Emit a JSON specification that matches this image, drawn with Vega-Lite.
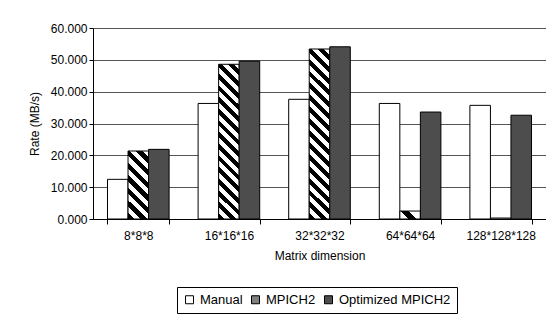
{
  "$schema": "https://vega.github.io/schema/vega-lite/v6.json",
  "width": 453,
  "height": 191,
  "autosize": {"type": "none"},
  "padding": {"left": 93, "top": 28, "right": 0, "bottom": 96},
  "background": "white",
  "data": {
    "values": [
      {"dim": "8*8*8", "series": "Manual", "rate": 12.46},
      {"dim": "8*8*8", "series": "MPICH2", "rate": 21.36},
      {"dim": "8*8*8", "series": "Optimized MPICH2", "rate": 21.88},
      {"dim": "16*16*16", "series": "Manual", "rate": 36.3},
      {"dim": "16*16*16", "series": "MPICH2", "rate": 48.6},
      {"dim": "16*16*16", "series": "Optimized MPICH2", "rate": 49.6},
      {"dim": "32*32*32", "series": "Manual", "rate": 37.6},
      {"dim": "32*32*32", "series": "MPICH2", "rate": 53.4},
      {"dim": "32*32*32", "series": "Optimized MPICH2", "rate": 54.1},
      {"dim": "64*64*64", "series": "Manual", "rate": 36.3},
      {"dim": "64*64*64", "series": "MPICH2", "rate": 2.5},
      {"dim": "64*64*64", "series": "Optimized MPICH2", "rate": 33.6},
      {"dim": "128*128*128", "series": "Manual", "rate": 35.7},
      {"dim": "128*128*128", "series": "MPICH2", "rate": 0.3},
      {"dim": "128*128*128", "series": "Optimized MPICH2", "rate": 32.6}
    ]
  },
  "mark": {"type": "bar", "stroke": "black", "strokeWidth": 1},
  "encoding": {
    "x": {
      "field": "dim", "type": "nominal", "sort": null,
      "scale": {"paddingInner": 0.32, "paddingOuter": 0.16},
      "axis": {
        "title": "Matrix dimension", "labelAngle": 0, "tickBand": "extent",
        "domainColor": "black", "tickColor": "black", "tickSize": 5,
        "labelPadding": 6, "titlePadding": 9, "grid": false
      }
    },
    "xOffset": {"field": "series", "type": "nominal", "sort": ["Manual", "MPICH2", "Optimized MPICH2"], "scale": {"paddingInner": 0, "paddingOuter": 0}},
    "y": {
      "field": "rate", "type": "quantitative",
      "scale": {"domain": [0, 60], "nice": false},
      "axis": {
        "title": "Rate (MB/s)", "format": ".3f", "values": [0, 10, 20, 30, 40, 50, 60], "labelOverlap": false,
        "domainColor": "black", "tickColor": "black", "tickSize": 4, "labelPadding": 2,
        "grid": true, "gridColor": "#555555", "gridOpacity": 1, "titlePadding": 9
      }
    },
    "fill": {
      "condition": [
        {"test": "datum.series === 'MPICH2' && datum.dim === '8*8*8'", "value": {"gradient": "linear", "x1": 0, "y1": 1, "x2": 0.3597, "y2": -0.193, "stops": [
          {"offset": 0, "color": "#000000"},
          {"offset": 0.0714, "color": "#000000"}, {"offset": 0.0714, "color": "#ffffff"},
          {"offset": 0.1429, "color": "#ffffff"}, {"offset": 0.1429, "color": "#000000"},
          {"offset": 0.2143, "color": "#000000"}, {"offset": 0.2143, "color": "#ffffff"},
          {"offset": 0.2857, "color": "#ffffff"}, {"offset": 0.2857, "color": "#000000"},
          {"offset": 0.3571, "color": "#000000"}, {"offset": 0.3571, "color": "#ffffff"},
          {"offset": 0.4286, "color": "#ffffff"}, {"offset": 0.4286, "color": "#000000"},
          {"offset": 0.5, "color": "#000000"}, {"offset": 0.5, "color": "#ffffff"},
          {"offset": 0.5714, "color": "#ffffff"}, {"offset": 0.5714, "color": "#000000"},
          {"offset": 0.6429, "color": "#000000"}, {"offset": 0.6429, "color": "#ffffff"},
          {"offset": 0.7143, "color": "#ffffff"}, {"offset": 0.7143, "color": "#000000"},
          {"offset": 0.7857, "color": "#000000"}, {"offset": 0.7857, "color": "#ffffff"},
          {"offset": 0.8571, "color": "#ffffff"}, {"offset": 0.8571, "color": "#000000"},
          {"offset": 0.9286, "color": "#000000"}, {"offset": 0.9286, "color": "#ffffff"},
          {"offset": 1, "color": "#ffffff"}
        ]}},
        {"test": "datum.series === 'MPICH2' && datum.dim === '16*16*16'", "value": {"gradient": "linear", "x1": 0, "y1": 1, "x2": 0.1475, "y2": -0.113, "stops": [
          {"offset": 0, "color": "#000000"},
          {"offset": 0.0333, "color": "#000000"}, {"offset": 0.0333, "color": "#ffffff"},
          {"offset": 0.0667, "color": "#ffffff"}, {"offset": 0.0667, "color": "#000000"},
          {"offset": 0.1, "color": "#000000"}, {"offset": 0.1, "color": "#ffffff"},
          {"offset": 0.1333, "color": "#ffffff"}, {"offset": 0.1333, "color": "#000000"},
          {"offset": 0.1667, "color": "#000000"}, {"offset": 0.1667, "color": "#ffffff"},
          {"offset": 0.2, "color": "#ffffff"}, {"offset": 0.2, "color": "#000000"},
          {"offset": 0.2333, "color": "#000000"}, {"offset": 0.2333, "color": "#ffffff"},
          {"offset": 0.2667, "color": "#ffffff"}, {"offset": 0.2667, "color": "#000000"},
          {"offset": 0.3, "color": "#000000"}, {"offset": 0.3, "color": "#ffffff"},
          {"offset": 0.3333, "color": "#ffffff"}, {"offset": 0.3333, "color": "#000000"},
          {"offset": 0.3667, "color": "#000000"}, {"offset": 0.3667, "color": "#ffffff"},
          {"offset": 0.4, "color": "#ffffff"}, {"offset": 0.4, "color": "#000000"},
          {"offset": 0.4333, "color": "#000000"}, {"offset": 0.4333, "color": "#ffffff"},
          {"offset": 0.4667, "color": "#ffffff"}, {"offset": 0.4667, "color": "#000000"},
          {"offset": 0.5, "color": "#000000"}, {"offset": 0.5, "color": "#ffffff"},
          {"offset": 0.5333, "color": "#ffffff"}, {"offset": 0.5333, "color": "#000000"},
          {"offset": 0.5667, "color": "#000000"}, {"offset": 0.5667, "color": "#ffffff"},
          {"offset": 0.6, "color": "#ffffff"}, {"offset": 0.6, "color": "#000000"},
          {"offset": 0.6333, "color": "#000000"}, {"offset": 0.6333, "color": "#ffffff"},
          {"offset": 0.6667, "color": "#ffffff"}, {"offset": 0.6667, "color": "#000000"},
          {"offset": 0.7, "color": "#000000"}, {"offset": 0.7, "color": "#ffffff"},
          {"offset": 0.7333, "color": "#ffffff"}, {"offset": 0.7333, "color": "#000000"},
          {"offset": 0.7667, "color": "#000000"}, {"offset": 0.7667, "color": "#ffffff"},
          {"offset": 0.8, "color": "#ffffff"}, {"offset": 0.8, "color": "#000000"},
          {"offset": 0.8333, "color": "#000000"}, {"offset": 0.8333, "color": "#ffffff"},
          {"offset": 0.8667, "color": "#ffffff"}, {"offset": 0.8667, "color": "#000000"},
          {"offset": 0.9, "color": "#000000"}, {"offset": 0.9, "color": "#ffffff"},
          {"offset": 0.9333, "color": "#ffffff"}, {"offset": 0.9333, "color": "#000000"},
          {"offset": 0.9667, "color": "#000000"}, {"offset": 0.9667, "color": "#ffffff"},
          {"offset": 1, "color": "#ffffff"}
        ]}},
        {"test": "datum.series === 'MPICH2' && datum.dim === '32*32*32'", "value": {"gradient": "linear", "x1": 0, "y1": 1, "x2": 0.1331, "y2": -0.104, "stops": [
          {"offset": 0, "color": "#000000"},
          {"offset": 0.03125, "color": "#000000"}, {"offset": 0.03125, "color": "#ffffff"},
          {"offset": 0.0625, "color": "#ffffff"}, {"offset": 0.0625, "color": "#000000"},
          {"offset": 0.09375, "color": "#000000"}, {"offset": 0.09375, "color": "#ffffff"},
          {"offset": 0.125, "color": "#ffffff"}, {"offset": 0.125, "color": "#000000"},
          {"offset": 0.15625, "color": "#000000"}, {"offset": 0.15625, "color": "#ffffff"},
          {"offset": 0.1875, "color": "#ffffff"}, {"offset": 0.1875, "color": "#000000"},
          {"offset": 0.21875, "color": "#000000"}, {"offset": 0.21875, "color": "#ffffff"},
          {"offset": 0.25, "color": "#ffffff"}, {"offset": 0.25, "color": "#000000"},
          {"offset": 0.28125, "color": "#000000"}, {"offset": 0.28125, "color": "#ffffff"},
          {"offset": 0.3125, "color": "#ffffff"}, {"offset": 0.3125, "color": "#000000"},
          {"offset": 0.34375, "color": "#000000"}, {"offset": 0.34375, "color": "#ffffff"},
          {"offset": 0.375, "color": "#ffffff"}, {"offset": 0.375, "color": "#000000"},
          {"offset": 0.40625, "color": "#000000"}, {"offset": 0.40625, "color": "#ffffff"},
          {"offset": 0.4375, "color": "#ffffff"}, {"offset": 0.4375, "color": "#000000"},
          {"offset": 0.46875, "color": "#000000"}, {"offset": 0.46875, "color": "#ffffff"},
          {"offset": 0.5, "color": "#ffffff"}, {"offset": 0.5, "color": "#000000"},
          {"offset": 0.53125, "color": "#000000"}, {"offset": 0.53125, "color": "#ffffff"},
          {"offset": 0.5625, "color": "#ffffff"}, {"offset": 0.5625, "color": "#000000"},
          {"offset": 0.59375, "color": "#000000"}, {"offset": 0.59375, "color": "#ffffff"},
          {"offset": 0.625, "color": "#ffffff"}, {"offset": 0.625, "color": "#000000"},
          {"offset": 0.65625, "color": "#000000"}, {"offset": 0.65625, "color": "#ffffff"},
          {"offset": 0.6875, "color": "#ffffff"}, {"offset": 0.6875, "color": "#000000"},
          {"offset": 0.71875, "color": "#000000"}, {"offset": 0.71875, "color": "#ffffff"},
          {"offset": 0.75, "color": "#ffffff"}, {"offset": 0.75, "color": "#000000"},
          {"offset": 0.78125, "color": "#000000"}, {"offset": 0.78125, "color": "#ffffff"},
          {"offset": 0.8125, "color": "#ffffff"}, {"offset": 0.8125, "color": "#000000"},
          {"offset": 0.84375, "color": "#000000"}, {"offset": 0.84375, "color": "#ffffff"},
          {"offset": 0.875, "color": "#ffffff"}, {"offset": 0.875, "color": "#000000"},
          {"offset": 0.90625, "color": "#000000"}, {"offset": 0.90625, "color": "#ffffff"},
          {"offset": 0.9375, "color": "#ffffff"}, {"offset": 0.9375, "color": "#000000"},
          {"offset": 0.96875, "color": "#000000"}, {"offset": 0.96875, "color": "#ffffff"},
          {"offset": 1, "color": "#ffffff"}
        ]}},
        {"test": "datum.series === 'MPICH2' && datum.dim === '64*64*64'", "value": {"gradient": "linear", "x1": 0, "y1": 1, "x2": 1.207, "y2": 0.529, "stops": [
          {"offset": 0, "color": "#ffffff"},
          {"offset": 0.3, "color": "#ffffff"}, {"offset": 0.3, "color": "#000000"},
          {"offset": 0.6, "color": "#000000"}, {"offset": 0.6, "color": "#ffffff"},
          {"offset": 1, "color": "#ffffff"}
        ]}},
        {"test": "datum.series === 'MPICH2'", "value": "#ffffff"}
      ],
      "field": "series", "type": "nominal",
      "sort": ["Manual", "MPICH2", "Optimized MPICH2"],
      "scale": {"domain": ["Manual", "MPICH2", "Optimized MPICH2"], "range": ["#ffffff", "#808080", "#4d4d4d"]},
      "legend": {
        "title": null, "orient": "none", "direction": "horizontal",
        "legendX": 84, "legendY": 259,
        "strokeColor": "black", "padding": 6,
        "symbolType": "square", "symbolSize": 64, "symbolStrokeColor": "black", "symbolStrokeWidth": 1,
        "columnPadding": 6, "labelOffset": 4, "symbolOffset": 0
      }
    }
  },
  "config": {
    "font": "Liberation Sans",
    "view": {"stroke": null},
    "axis": {"labelFont": "Liberation Sans", "labelFontSize": 12, "labelColor": "black", "titleFont": "Liberation Sans", "titleFontSize": 12, "titleFontWeight": "normal", "titleColor": "black"},
    "legend": {"labelFont": "Liberation Sans", "labelFontSize": 13, "labelColor": "black"}
  }
}
